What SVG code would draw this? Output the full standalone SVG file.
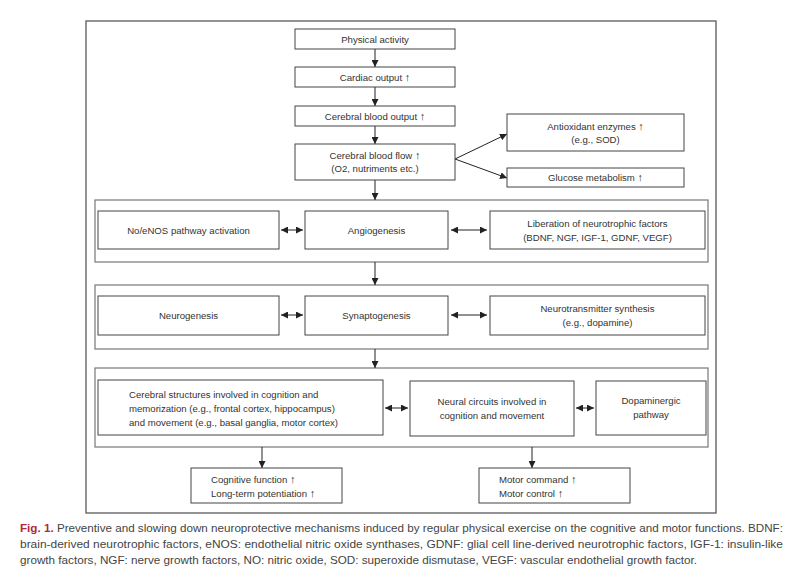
<svg xmlns="http://www.w3.org/2000/svg" width="800" height="581" viewBox="0 0 800 581">
<defs>
<marker id="ah" viewBox="0 0 10 10" refX="10" refY="5" markerWidth="7" markerHeight="7" markerUnits="userSpaceOnUse" orient="auto-start-reverse">
<path d="M0,0 L10,5 L0,10 z" fill="#222"/>
</marker>
<style>
.box{fill:#fff;stroke:#444;stroke-width:1}
.grp{fill:none;stroke:#777;stroke-width:1.2}
.frame{fill:none;stroke:#666;stroke-width:1.4}
.t{font-family:"Liberation Sans",Arial,sans-serif;font-size:9.6px;fill:#333}
.c{text-anchor:middle}
.up{font-size:11px}
.ln{stroke:#222;stroke-width:1;fill:none;marker-end:url(#ah)}
.dl{stroke:#222;stroke-width:1;fill:none;marker-end:url(#ah);marker-start:url(#ah)}
.cap{font-family:"Liberation Sans",Arial,sans-serif;font-size:10.6px;fill:#444}
.fig{fill:#b0283c;font-weight:bold}
</style>
</defs>
<rect width="800" height="581" fill="#fff"/>
<rect class="frame" x="86" y="21" width="630" height="492"/>

<g id="group1"><rect class="grp" x="95" y="200" width="613" height="62"/></g>
<g id="group2"><rect class="grp" x="95" y="285" width="613" height="64"/></g>
<g id="group3"><rect class="grp" x="95" y="368" width="613" height="79"/></g>

<g id="connectors">
<line class="ln" x1="375" y1="49" x2="375" y2="67"/>
<line class="ln" x1="375" y1="87" x2="375" y2="106"/>
<line class="ln" x1="375" y1="126" x2="375" y2="144"/>
<line class="ln" x1="375" y1="180" x2="375" y2="200"/>
<line class="ln" x1="455" y1="159" x2="507" y2="134"/>
<line class="ln" x1="455" y1="159" x2="507" y2="178"/>
<line class="dl" x1="281" y1="230" x2="303" y2="230"/>
<line class="dl" x1="451" y1="230" x2="487" y2="230"/>
<line class="ln" x1="375" y1="262" x2="375" y2="285"/>
<line class="dl" x1="281" y1="315" x2="303" y2="315"/>
<line class="dl" x1="451" y1="315" x2="487" y2="315"/>
<line class="ln" x1="375" y1="349" x2="375" y2="368"/>
<line class="dl" x1="385" y1="408" x2="408" y2="408"/>
<line class="dl" x1="576" y1="408" x2="594" y2="408"/>
<line class="ln" x1="262" y1="447" x2="262" y2="468"/>
<line class="ln" x1="532" y1="447" x2="532" y2="468"/>
</g>

<g id="physical-activity"><rect class="box" x="295" y="29" width="160" height="20"/><text class="t c" x="375" y="42.5">Physical activity</text></g>
<g id="cardiac-output"><rect class="box" x="295" y="67" width="160" height="20"/><text class="t c" x="375" y="80.5">Cardiac output <tspan class="up">↑</tspan></text></g>
<g id="cerebral-blood-output"><rect class="box" x="295" y="106" width="160" height="20"/><text class="t c" x="375" y="119.5">Cerebral blood output <tspan class="up">↑</tspan></text></g>
<g id="cerebral-blood-flow"><rect class="box" x="295" y="144" width="160" height="36"/><text class="t c" x="375" y="158.5">Cerebral blood flow <tspan class="up">↑</tspan></text><text class="t c" x="375" y="172">(O2, nutriments etc.)</text></g>
<g id="antioxidant"><rect class="box" x="507" y="114" width="177" height="37"/><text class="t c" x="595.5" y="129.5">Antioxidant enzymes <tspan class="up">↑</tspan></text><text class="t c" x="595.5" y="143">(e.g., SOD)</text></g>
<g id="glucose"><rect class="box" x="507" y="168" width="177" height="19"/><text class="t c" x="595.5" y="181">Glucose metabolism <tspan class="up">↑</tspan></text></g>

<g id="noenos"><rect class="box" x="98" y="211" width="181" height="38"/><text class="t c" x="188.5" y="233.5">No/eNOS pathway activation</text></g>
<g id="angiogenesis"><rect class="box" x="305" y="211" width="143" height="38"/><text class="t c" x="376.5" y="233.5">Angiogenesis</text></g>
<g id="neurotrophic"><rect class="box" x="490" y="211" width="215" height="38"/><text class="t c" x="597.5" y="226.5">Liberation of neurotrophic factors</text><text class="t c" x="597.5" y="240.5">(BDNF, NGF, IGF-1, GDNF, VEGF)</text></g>

<g id="neurogenesis"><rect class="box" x="98" y="296" width="181" height="39"/><text class="t c" x="188.5" y="318.5">Neurogenesis</text></g>
<g id="synaptogenesis"><rect class="box" x="305" y="296" width="143" height="39"/><text class="t c" x="376.5" y="318.5">Synaptogenesis</text></g>
<g id="neurotransmitter"><rect class="box" x="490" y="296" width="215" height="39"/><text class="t c" x="597.5" y="311.5">Neurotransmitter synthesis</text><text class="t c" x="597.5" y="325.5">(e.g., dopamine)</text></g>

<g id="cerebral-structures"><rect class="box" x="98" y="380" width="285" height="55"/><text class="t" x="129" y="397.5">Cerebral structures involved in cognition and</text><text class="t" x="129" y="411.5">memorization (e.g., frontal cortex, hippocampus)</text><text class="t" x="129" y="425.5">and movement (e.g., basal ganglia, motor cortex)</text></g>
<g id="neural-circuits"><rect class="box" x="410" y="381" width="164" height="55"/><text class="t c" x="492" y="405">Neural circuits involved in</text><text class="t c" x="492" y="419">cognition and movement</text></g>
<g id="dopaminergic"><rect class="box" x="596" y="381" width="110" height="54"/><text class="t c" x="651" y="404">Dopaminergic</text><text class="t c" x="651" y="418">pathway</text></g>

<g id="cognitive"><rect class="box" x="191" y="468" width="151" height="35"/><text class="t" x="211" y="482.5">Cognitive function <tspan class="up">↑</tspan></text><text class="t" x="211" y="496.5">Long-term potentiation <tspan class="up">↑</tspan></text></g>
<g id="motor"><rect class="box" x="479" y="468" width="151" height="35"/><text class="t" x="499" y="482.5">Motor command <tspan class="up">↑</tspan></text><text class="t" x="499" y="496.5">Motor control <tspan class="up">↑</tspan></text></g>

<g id="caption">
<text class="cap" x="20" y="532" textLength="763" lengthAdjust="spacingAndGlyphs"><tspan class="fig">Fig. 1.</tspan> Preventive and slowing down neuroprotective mechanisms induced by regular physical exercise on the cognitive and motor functions. BDNF:</text>
<text class="cap" x="20" y="548" textLength="763" lengthAdjust="spacingAndGlyphs">brain-derived neurotrophic factors, eNOS: endothelial nitric oxide synthases, GDNF: glial cell line-derived neurotrophic factors, IGF-1: insulin-like</text>
<text class="cap" x="20" y="564" textLength="677" lengthAdjust="spacingAndGlyphs">growth factors, NGF: nerve growth factors, NO: nitric oxide, SOD: superoxide dismutase, VEGF: vascular endothelial growth factor.</text>
</g>
</svg>
